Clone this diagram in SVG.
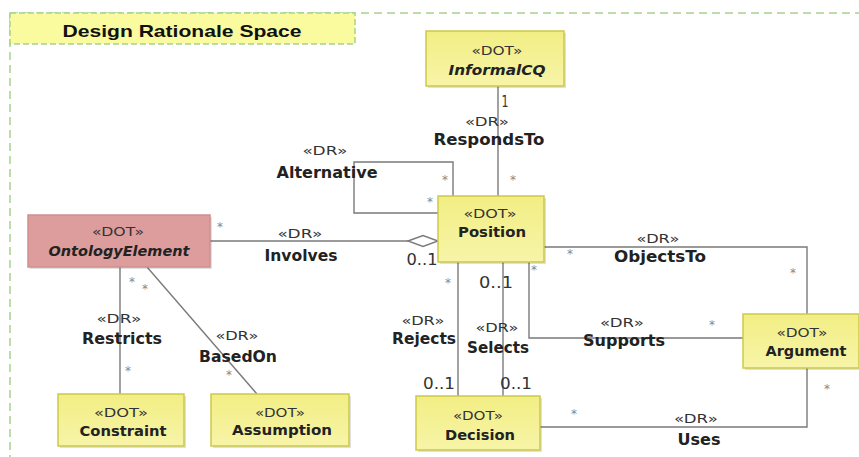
<svg xmlns="http://www.w3.org/2000/svg" width="859" height="457" viewBox="0 0 859 457">
<defs>
<linearGradient id="yg" x1="0" y1="0" x2="0" y2="1">
<stop offset="0" stop-color="#f2ee84"/>
<stop offset="1" stop-color="#f7f4a8"/>
</linearGradient>
<style>
.frame{fill:none;stroke:#a9d18e;stroke-width:1.5;stroke-dasharray:8 5}
.title{fill:#fafa9e;stroke:#a9d18e;stroke-width:1.5;stroke-dasharray:6 3}
.box{fill:url(#yg);stroke:#cdc94a;stroke-width:1.5}
.pink{fill:#dd9d9d;stroke:#cf8f8f;stroke-width:1.5}
.sh{fill:#000;opacity:0.12}
text{font-family:"DejaVu Sans","Liberation Sans",sans-serif;text-anchor:middle}
.tt{font-family:"Liberation Sans",sans-serif;font-weight:bold;font-size:17px;fill:#111}
.st{font-size:12.5px;fill:#333}
.nm{font-size:14px;font-weight:bold;fill:#222}
.it{font-style:italic}
.dr{font-size:12.5px;fill:#333}
.lb{font-size:15px;font-weight:bold;fill:#222}
.m{font-size:15px;fill:#333}
.a{font-size:12px;fill:#888}
.ln{fill:none;stroke:#7a7a7a;stroke-width:1.4}
</style>
</defs>

<g id="frame">
<path class="frame" d="M10,13 H859 M10,13 V457"/>
<rect class="title" x="10" y="13" width="345" height="31"/>
<text class="tt" x="182" y="37" textLength="239" lengthAdjust="spacingAndGlyphs">Design Rationale Space</text>
</g>

<g id="connectors">
<path class="ln" d="M498,86 V196"/>
<path class="ln" d="M453,196 V162 H354 V213 H438"/>
<path class="ln" d="M210,241 H408"/>
<path d="M408,241 L423,235.5 L438,241 L423,246.5 Z" fill="#fff" stroke="#7a7a7a" stroke-width="1.4"/>
<path class="ln" d="M120,267 V394"/>
<path class="ln" d="M147,267 L257,394"/>
<path class="ln" d="M458,262 V396"/>
<path class="ln" d="M503,262 V396"/>
<path class="ln" d="M544,247 H807 V314"/>
<path class="ln" d="M529,262 V338 H743"/>
<path class="ln" d="M540,427 H807 V368"/>

<text class="m" x="505" y="107" textLength="7" lengthAdjust="spacingAndGlyphs">1</text>
<text class="dr" x="487" y="126" textLength="44" lengthAdjust="spacingAndGlyphs">«DR»</text>
<text class="lb" x="489" y="145" textLength="111" lengthAdjust="spacingAndGlyphs">RespondsTo</text>
<text class="a" x="513" y="184">*</text>

<text class="dr" x="325" y="155" textLength="45" lengthAdjust="spacingAndGlyphs">«DR»</text>
<text class="lb" x="327" y="178" textLength="101" lengthAdjust="spacingAndGlyphs">Alternative</text>
<text class="a" x="445" y="184">*</text>
<text class="a" x="430" y="206">*</text>

<text class="a" x="220" y="231">*</text>
<text class="dr" x="300" y="238" textLength="45" lengthAdjust="spacingAndGlyphs">«DR»</text>
<text class="lb" x="301" y="261" textLength="73" lengthAdjust="spacingAndGlyphs">Involves</text>
<text class="m" x="422" y="265" textLength="31" lengthAdjust="spacingAndGlyphs">0..1</text>

<text class="a" x="132" y="286">*</text>
<text class="a" x="145" y="293">*</text>
<text class="dr" x="119" y="323" textLength="45" lengthAdjust="spacingAndGlyphs">«DR»</text>
<text class="lb" x="122" y="344" textLength="80" lengthAdjust="spacingAndGlyphs">Restricts</text>
<text class="a" x="128" y="375">*</text>

<text class="dr" x="237" y="340" textLength="43" lengthAdjust="spacingAndGlyphs">«DR»</text>
<text class="lb" x="238" y="362" textLength="78" lengthAdjust="spacingAndGlyphs">BasedOn</text>
<text class="a" x="229" y="379">*</text>

<text class="a" x="448" y="287">*</text>
<text class="m" x="496" y="288" textLength="34" lengthAdjust="spacingAndGlyphs">0..1</text>
<text class="dr" x="423" y="325" textLength="43" lengthAdjust="spacingAndGlyphs">«DR»</text>
<text class="lb" x="424" y="344" textLength="64" lengthAdjust="spacingAndGlyphs">Rejects</text>
<text class="dr" x="497" y="332" textLength="43" lengthAdjust="spacingAndGlyphs">«DR»</text>
<text class="lb" x="498" y="353" textLength="62" lengthAdjust="spacingAndGlyphs">Selects</text>
<text class="m" x="439" y="389" textLength="32" lengthAdjust="spacingAndGlyphs">0..1</text>
<text class="m" x="516" y="389" textLength="32" lengthAdjust="spacingAndGlyphs">0..1</text>

<text class="a" x="570" y="258">*</text>
<text class="dr" x="658" y="243" textLength="43" lengthAdjust="spacingAndGlyphs">«DR»</text>
<text class="lb" x="660" y="262" textLength="92" lengthAdjust="spacingAndGlyphs">ObjectsTo</text>
<text class="a" x="793" y="277">*</text>

<text class="a" x="534" y="274">*</text>
<text class="dr" x="622" y="327" textLength="44" lengthAdjust="spacingAndGlyphs">«DR»</text>
<text class="lb" x="624" y="346" textLength="82" lengthAdjust="spacingAndGlyphs">Supports</text>
<text class="a" x="712" y="329">*</text>

<text class="a" x="574" y="418">*</text>
<text class="dr" x="696" y="423" textLength="44" lengthAdjust="spacingAndGlyphs">«DR»</text>
<text class="lb" x="699" y="445" textLength="43" lengthAdjust="spacingAndGlyphs">Uses</text>
<text class="a" x="827" y="393">*</text>
</g>

<g id="InformalCQ">
<rect class="sh" x="428" y="33" width="138" height="55"/>
<rect class="box" x="426" y="31" width="138" height="55"/>
<text class="st" x="497" y="55" textLength="51" lengthAdjust="spacingAndGlyphs">«DOT»</text>
<text class="nm it" x="497" y="75" textLength="97" lengthAdjust="spacingAndGlyphs">InformalCQ</text>
</g>

<g id="Position">
<rect class="sh" x="440" y="198" width="106" height="66"/>
<rect class="box" x="438" y="196" width="106" height="66"/>
<text class="st" x="490" y="218" textLength="53" lengthAdjust="spacingAndGlyphs">«DOT»</text>
<text class="nm" x="492" y="237" textLength="68" lengthAdjust="spacingAndGlyphs">Position</text>
</g>

<g id="OntologyElement">
<rect class="sh" x="30" y="217" width="182" height="52"/>
<rect class="pink" x="28" y="215" width="182" height="52"/>
<text class="st" x="118" y="236" textLength="52" lengthAdjust="spacingAndGlyphs">«DOT»</text>
<text class="nm it" x="119" y="256" textLength="141" lengthAdjust="spacingAndGlyphs">OntologyElement</text>
</g>

<g id="Constraint">
<rect class="sh" x="60" y="396" width="126" height="52"/>
<rect class="box" x="58" y="394" width="126" height="52"/>
<text class="st" x="121" y="417" textLength="54" lengthAdjust="spacingAndGlyphs">«DOT»</text>
<text class="nm" x="123" y="436" textLength="87" lengthAdjust="spacingAndGlyphs">Constraint</text>
</g>

<g id="Assumption">
<rect class="sh" x="213" y="396" width="138" height="52"/>
<rect class="box" x="211" y="394" width="138" height="52"/>
<text class="st" x="280" y="417" textLength="50" lengthAdjust="spacingAndGlyphs">«DOT»</text>
<text class="nm" x="282" y="435" textLength="100" lengthAdjust="spacingAndGlyphs">Assumption</text>
</g>

<g id="Decision">
<rect class="sh" x="418" y="398" width="124" height="54"/>
<rect class="box" x="416" y="396" width="124" height="54"/>
<text class="st" x="478" y="420" textLength="50" lengthAdjust="spacingAndGlyphs">«DOT»</text>
<text class="nm" x="480" y="440" textLength="70" lengthAdjust="spacingAndGlyphs">Decision</text>
</g>

<g id="Argument">
<rect class="sh" x="745" y="316" width="116" height="54"/>
<rect class="box" x="743" y="314" width="116" height="54"/>
<text class="st" x="802" y="337" textLength="51" lengthAdjust="spacingAndGlyphs">«DOT»</text>
<text class="nm" x="806" y="356" textLength="81" lengthAdjust="spacingAndGlyphs">Argument</text>
</g>
</svg>
